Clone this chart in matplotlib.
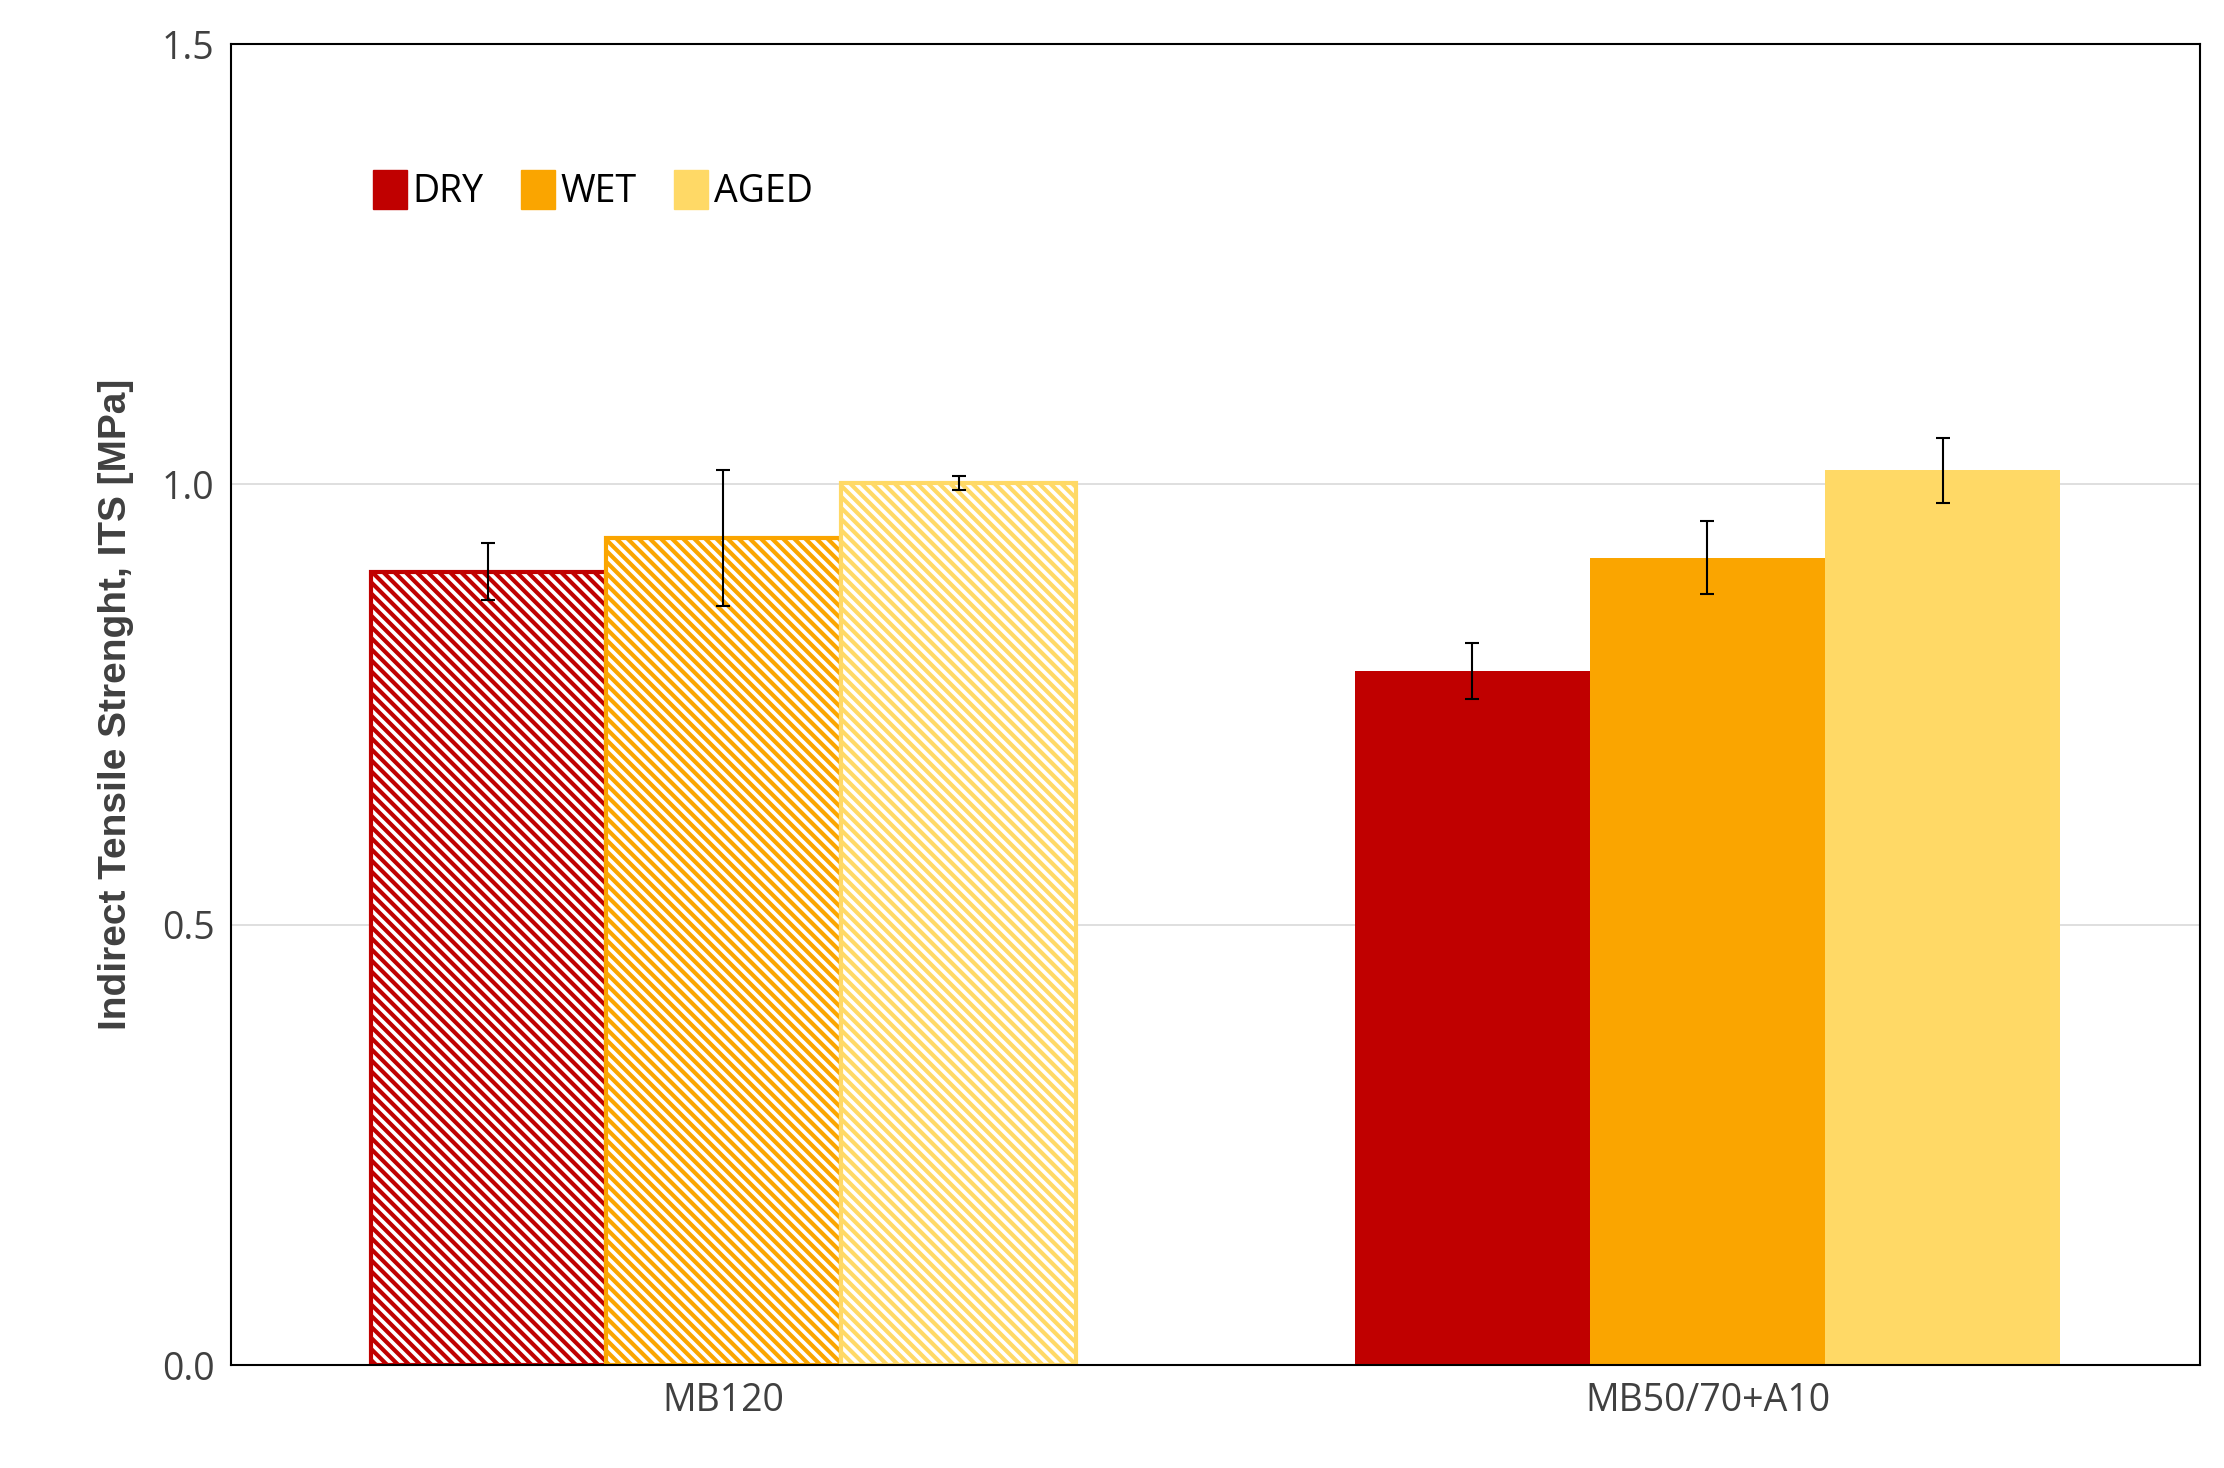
import numpy as np
import matplotlib.pyplot as plt
from matplotlib.patches import Patch

plt.rcParams['font.family'] = ['Open Sans', 'DejaVu Sans']
plt.rcParams['hatch.linewidth'] = 3.0

groups = ["MB120", "MB50/70+A10"]
series = ["DRY", "WET", "AGED"]
colors = ["#C00000", "#FAA500", "#FFD966"]
values = {"DRY": [0.901, 0.788], "WET": [0.939, 0.917], "AGED": [1.002, 1.016]}
errors = {"DRY": [0.032, 0.032], "WET": [0.077, 0.041], "AGED": [0.008, 0.037]}

fig = plt.figure(figsize=(22.24, 14.68), dpi=100)
ax = fig.add_axes([0.104, 0.070, 0.885, 0.900])
x = np.arange(len(groups))
w = 0.239
for i, s in enumerate(series):
    xs = x + (i - 1) * w
    # first group hatched, second solid
    ax.bar(xs[0], values[s][0], w, facecolor="white", edgecolor=colors[i],
           hatch="\\\\\\", linewidth=3, zorder=2)
    ax.bar(xs[1], values[s][1], w, color=colors[i], zorder=2)
    ax.errorbar(xs, values[s], yerr=errors[s], fmt="none", ecolor="black",
                elinewidth=1.5, capsize=5, capthick=1.5, zorder=3)

ax.set_xlim(-0.5, 1.5)
ax.set_ylim(0, 1.5)
ax.set_yticks([0, 0.5, 1.0, 1.5])
ax.set_yticklabels(["0.0", "0.5", "1.0", "1.5"])
ax.set_xticks(x)
ax.set_xticklabels(groups)
ax.tick_params(labelsize=27, length=0, colors="#404040", pad=12)
ax.grid(axis="y", color="#d9d9d9", linewidth=1.2, zorder=0)
ax.set_axisbelow(True)
for sp in ax.spines.values():
    sp.set_color("black")
    sp.set_linewidth(1.5)
ax.set_ylabel("Indirect Tensile Strenght, ITS [MPa]", fontsize=28,
              fontweight="bold", color="#404040", family=["Liberation Sans", "DejaVu Sans"], labelpad=20)

handles = [Patch(color=c, label=s) for s, c in zip(series, colors)]
ax.legend(handles=handles, loc="upper left", bbox_to_anchor=(0.055, 0.93), ncol=3,
          frameon=False, fontsize=27, handlelength=0.9, handleheight=1.2,
          handletextpad=0.15, columnspacing=1.0)

fig.savefig("out.png", dpi=100)
